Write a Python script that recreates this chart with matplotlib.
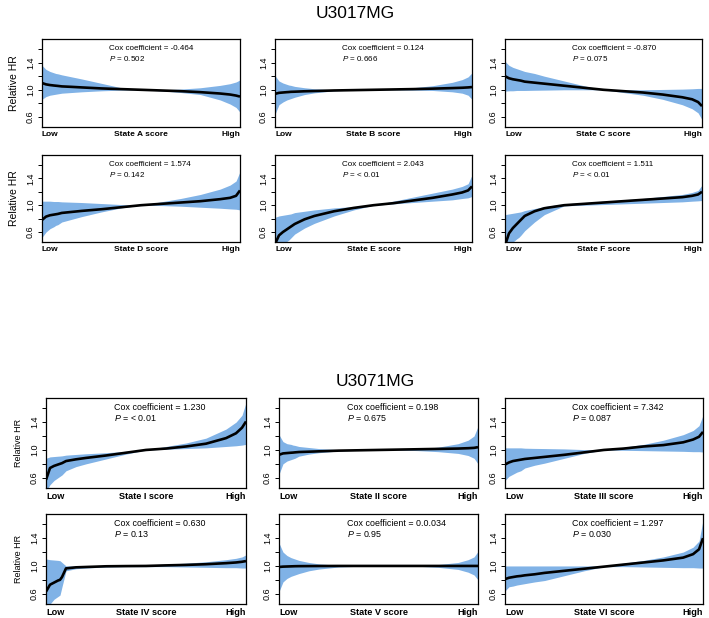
import numpy as np
import matplotlib
matplotlib.use("Agg")
from matplotlib import pyplot as plt

plt.rcParams['font.family'] = ['Liberation Sans', 'DejaVu Sans']
plt.rcParams['mathtext.fontset'] = 'custom'
plt.rcParams['mathtext.rm'] = 'Liberation Sans'
plt.rcParams['mathtext.it'] = 'Liberation Sans:italic'

# rank of the state score (0 = low, 1 = high)
x_rank = [0, .02, .04, .06, .07, .08, .10, .15, .20, .30, .40, .50, .60, .70, .80, .90, .95, .98, 1.0]

# ---- U3017MG ----
a_mid = [1.10, 1.08, 1.07, 1.063, 1.06, 1.057, 1.05, 1.043, 1.035, 1.02, 1.01, 1.0, 0.99, 0.98, 0.965, 0.945, 0.93, 0.915, 0.90]
a_hi = [1.36, 1.30, 1.27, 1.25, 1.24, 1.235, 1.22, 1.19, 1.16, 1.095, 1.03, 1.0, 1.0, 1.01, 1.03, 1.065, 1.09, 1.115, 1.145]
a_lo = [0.86, 0.90, 0.92, 0.93, 0.935, 0.94, 0.95, 0.96, 0.97, 0.985, 0.995, 1.0, 0.985, 0.96, 0.93, 0.85, 0.79, 0.74, 0.67]

b_mid = [0.94, 0.955, 0.96, 0.965, 0.967, 0.97, 0.972, 0.978, 0.982, 0.99, 0.995, 1.0, 1.005, 1.01, 1.017, 1.025, 1.03, 1.035, 1.04]
b_hi = [1.21, 1.13, 1.10, 1.08, 1.07, 1.065, 1.05, 1.03, 1.015, 1.0, 1.0, 1.0, 1.01, 1.03, 1.06, 1.11, 1.15, 1.19, 1.25]
b_lo = [0.64, 0.78, 0.82, 0.85, 0.86, 0.87, 0.89, 0.93, 0.955, 0.985, 0.995, 1.0, 1.0, 0.995, 0.99, 0.97, 0.95, 0.92, 0.86]

c_mid = [1.20, 1.17, 1.155, 1.145, 1.14, 1.135, 1.12, 1.105, 1.09, 1.06, 1.03, 1.0, 0.98, 0.96, 0.93, 0.89, 0.86, 0.82, 0.76]
c_hi = [1.42, 1.36, 1.33, 1.31, 1.30, 1.29, 1.27, 1.24, 1.20, 1.13, 1.06, 1.0, 1.0, 1.0, 1.005, 1.01, 1.015, 1.02, 1.02]
c_lo = [0.98, 0.985, 0.985, 0.99, 0.99, 0.99, 0.99, 0.993, 0.995, 1.0, 1.0, 1.0, 0.96, 0.92, 0.86, 0.78, 0.72, 0.66, 0.56]

d_mid = [0.78, 0.83, 0.85, 0.86, 0.865, 0.87, 0.885, 0.90, 0.915, 0.94, 0.97, 1.0, 1.02, 1.04, 1.06, 1.09, 1.11, 1.14, 1.22]
d_hi = [1.06, 1.06, 1.06, 1.055, 1.055, 1.055, 1.05, 1.045, 1.04, 1.025, 1.01, 1.0, 1.05, 1.10, 1.16, 1.24, 1.30, 1.36, 1.50]
d_lo = [0.52, 0.60, 0.65, 0.68, 0.70, 0.71, 0.75, 0.79, 0.83, 0.90, 0.96, 1.0, 0.995, 0.985, 0.97, 0.955, 0.945, 0.94, 0.93]

e_mid = [0.42, 0.55, 0.60, 0.64, 0.66, 0.68, 0.72, 0.79, 0.84, 0.91, 0.96, 1.0, 1.03, 1.07, 1.11, 1.16, 1.19, 1.22, 1.28]
e_hi = [0.82, 0.84, 0.85, 0.86, 0.865, 0.87, 0.89, 0.91, 0.93, 0.96, 0.98, 1.0, 1.06, 1.12, 1.18, 1.24, 1.28, 1.32, 1.45]
e_lo = [0.30, 0.35, 0.41, 0.46, 0.48, 0.51, 0.57, 0.66, 0.73, 0.84, 0.93, 1.0, 1.02, 1.04, 1.06, 1.08, 1.10, 1.11, 1.13]

f_mid = [0.40, 0.58, 0.66, 0.72, 0.75, 0.78, 0.84, 0.91, 0.955, 1.0, 1.02, 1.04, 1.06, 1.08, 1.10, 1.12, 1.14, 1.16, 1.20]
f_hi = [0.86, 0.87, 0.88, 0.89, 0.895, 0.90, 0.92, 0.95, 0.98, 1.02, 1.04, 1.06, 1.08, 1.10, 1.13, 1.16, 1.19, 1.22, 1.30]
f_lo = [0.30, 0.40, 0.45, 0.50, 0.52, 0.55, 0.62, 0.75, 0.86, 0.99, 1.0, 1.01, 1.02, 1.03, 1.04, 1.05, 1.06, 1.065, 1.07]

# ---- U3071MG ----
i_mid = [0.57, 0.74, 0.77, 0.79, 0.80, 0.81, 0.84, 0.865, 0.885, 0.92, 0.96, 1.0, 1.02, 1.05, 1.09, 1.17, 1.24, 1.32, 1.41]
i_hi = [0.88, 0.90, 0.905, 0.91, 0.912, 0.915, 0.925, 0.935, 0.945, 0.96, 0.98, 1.0, 1.05, 1.10, 1.17, 1.30, 1.40, 1.50, 1.68]
i_lo = [0.40, 0.50, 0.56, 0.60, 0.62, 0.64, 0.70, 0.76, 0.80, 0.87, 0.94, 1.0, 1.01, 1.02, 1.03, 1.05, 1.06, 1.07, 1.08]

ii_mid = [0.93, 0.95, 0.955, 0.96, 0.962, 0.965, 0.97, 0.975, 0.98, 0.99, 0.995, 1.0, 1.005, 1.01, 1.015, 1.02, 1.025, 1.03, 1.04]
ii_hi = [1.22, 1.12, 1.09, 1.08, 1.07, 1.065, 1.05, 1.035, 1.02, 1.005, 1.0, 1.0, 1.005, 1.015, 1.04, 1.09, 1.14, 1.20, 1.34]
ii_lo = [0.65, 0.80, 0.84, 0.86, 0.87, 0.88, 0.91, 0.94, 0.96, 0.985, 0.995, 1.0, 1.0, 0.99, 0.975, 0.95, 0.92, 0.88, 0.80]

iii_mid = [0.79, 0.82, 0.84, 0.85, 0.855, 0.86, 0.87, 0.885, 0.90, 0.93, 0.965, 1.0, 1.02, 1.05, 1.07, 1.11, 1.15, 1.19, 1.26]
iii_hi = [1.03, 1.03, 1.03, 1.03, 1.03, 1.03, 1.025, 1.022, 1.02, 1.015, 1.005, 1.0, 1.04, 1.08, 1.14, 1.22, 1.28, 1.35, 1.50]
iii_lo = [0.56, 0.62, 0.65, 0.68, 0.69, 0.70, 0.74, 0.78, 0.81, 0.88, 0.95, 1.0, 0.995, 0.99, 0.985, 0.98, 0.975, 0.975, 0.97]

iv_mid = [0.63, 0.73, 0.76, 0.79, 0.80, 0.84, 0.965, 0.98, 0.985, 0.995, 0.998, 1.0, 1.008, 1.015, 1.025, 1.04, 1.05, 1.06, 1.07]
iv_hi = [1.10, 1.09, 1.085, 1.08, 1.075, 1.05, 1.0, 1.0, 1.0, 1.005, 1.01, 1.015, 1.025, 1.04, 1.06, 1.09, 1.11, 1.13, 1.16]
iv_lo = [0.40, 0.45, 0.52, 0.56, 0.58, 0.70, 0.93, 0.96, 0.97, 0.985, 0.99, 0.99, 0.99, 0.985, 0.98, 0.975, 0.975, 0.97, 0.97]

v_mid = [0.985, 0.99, 0.992, 0.994, 0.995, 0.996, 0.997, 0.998, 0.999, 1.0, 1.0, 1.0, 1.0, 1.0, 1.0, 1.0, 1.0, 1.0, 1.0]
v_hi = [1.33, 1.20, 1.15, 1.12, 1.11, 1.10, 1.08, 1.05, 1.03, 1.01, 1.0, 1.0, 1.0, 1.005, 1.02, 1.05, 1.09, 1.13, 1.21]
v_lo = [0.63, 0.77, 0.82, 0.85, 0.86, 0.87, 0.89, 0.93, 0.955, 0.985, 0.995, 1.0, 1.0, 0.995, 0.98, 0.95, 0.91, 0.87, 0.80]

vi_mid = [0.81, 0.83, 0.84, 0.85, 0.853, 0.856, 0.865, 0.88, 0.90, 0.93, 0.96, 0.99, 1.02, 1.05, 1.08, 1.12, 1.17, 1.24, 1.40]
vi_hi = [1.0, 1.0, 1.0, 1.0, 1.0, 1.0, 1.0, 1.0, 1.0, 1.0, 1.0, 1.0, 1.04, 1.08, 1.13, 1.20, 1.27, 1.36, 1.66]
vi_lo = [0.64, 0.70, 0.71, 0.725, 0.73, 0.735, 0.745, 0.77, 0.79, 0.86, 0.93, 0.99, 0.99, 0.985, 0.98, 0.975, 0.975, 0.97, 0.97]

top_names = ['A', 'B', 'C', 'D', 'E', 'F']
top_coef = ['-0.464', '0.124', '-0.870', '1.574', '2.043', '1.511']
top_p = ['0.502', '0.666', '0.075', '0.142', '< 0.01', '< 0.01']

bot_names = ['I', 'II', 'III', 'IV', 'V', 'VI']
bot_coef = ['1.230', '0.198', '7.342', '0.630', '0.0.034', '1.297']
bot_p = ['< 0.01', '0.675', '0.087', '0.13', '0.95', '0.030']

top_curves = [(a_mid, a_lo, a_hi), (b_mid, b_lo, b_hi), (c_mid, c_lo, c_hi),
              (d_mid, d_lo, d_hi), (e_mid, e_lo, e_hi), (f_mid, f_lo, f_hi)]
bot_curves = [(i_mid, i_lo, i_hi), (ii_mid, ii_lo, ii_hi), (iii_mid, iii_lo, iii_hi),
              (iv_mid, iv_lo, iv_hi), (v_mid, v_lo, v_hi), (vi_mid, vi_lo, vi_hi)]

W, H = 709, 618
fig = plt.figure(figsize=(W / 100, H / 100), dpi=100)
band = '#80b2e6'


def panel(box, curve, name, coef, p, first_col, fs, ylab_fs):
    x0, y0, x1, y1 = box
    ax = fig.add_axes([x0 / W, 1 - y1 / H, (x1 - x0) / W, (y1 - y0) / H])
    mid, lo, hi = curve
    ax.fill_between(x_rank, lo, hi, color=band, lw=0)
    ax.plot(x_rank, mid, color='black', lw=1.9, solid_capstyle='butt')
    ax.set_xlim(0, 1)
    ax.set_ylim(0.452, 1.748)
    ax.set_xticks([])
    ax.set_yticks([0.6, 0.8, 1.0, 1.2, 1.4, 1.6])
    ax.set_yticklabels(['0.6', '', '1.0', '', '1.4', ''], rotation=90, va='center')
    ax.tick_params(axis='y', length=3, width=0.7, labelsize=6.5, pad=2)
    for s in ax.spines.values():
        s.set_linewidth(0.9)
    ax.text(0.0, -0.09, 'Low', transform=ax.transAxes, ha='left', va='center',
            fontsize=fs, fontweight='bold')
    ax.text(0.5, -0.09, 'State %s score' % name, transform=ax.transAxes, ha='center',
            va='center', fontsize=fs, fontweight='bold')
    ax.text(1.0, -0.09, 'High', transform=ax.transAxes, ha='right', va='center',
            fontsize=fs, fontweight='bold')
    ax.text(0.34, 0.89, 'Cox coefficient = %s' % coef, transform=ax.transAxes,
            ha='left', va='center', fontsize=fs - 0.2)
    ax.text(0.34, 0.775, r'$P$ = %s' % p, transform=ax.transAxes,
            ha='left', va='center', fontsize=fs - 0.2)
    if first_col:
        ax.set_ylabel('Relative HR', fontsize=ylab_fs, labelpad=5)
    return ax


top_cols = [(42, 240), (275, 472), (505, 702)]
top_rows = [(39, 127), (155, 242)]
for k in range(6):
    c = top_cols[k % 3]
    r = top_rows[k // 3]
    panel((c[0], r[0], c[1], r[1]), top_curves[k], top_names[k], top_coef[k], top_p[k],
          k % 3 == 0, 6.0, 7.5)

bot_cols = [(46, 246), (279, 478), (505, 703)]
bot_rows = [(398, 488), (514, 604)]
for k in range(6):
    c = bot_cols[k % 3]
    r = bot_rows[k // 3]
    panel((c[0], r[0], c[1], r[1]), bot_curves[k], bot_names[k], bot_coef[k], bot_p[k],
          k % 3 == 0, 6.6, 6.5)

fig.text(355 / W, 1 - 13 / H, 'U3017MG', ha='center', va='center', fontsize=12.5)
fig.text(375 / W, 1 - 381 / H, 'U3071MG', ha='center', va='center', fontsize=12.5)

fig.savefig('out.png', dpi=100)
